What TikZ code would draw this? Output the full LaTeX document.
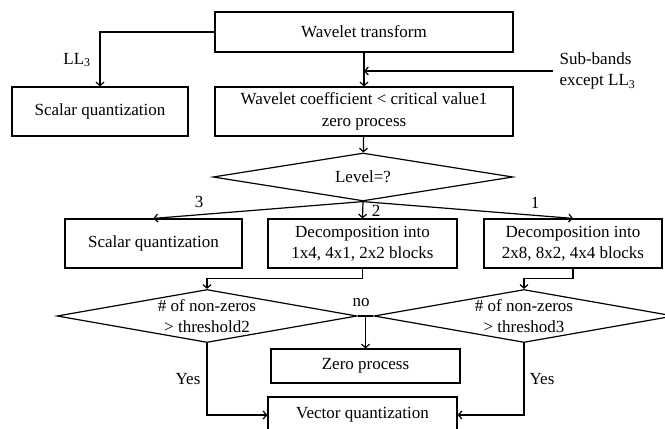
\documentclass[tikz,border=0pt]{standalone}
\usepackage{fontspec}
\setmainfont{Liberation Serif}
\usetikzlibrary{shapes.geometric, arrows.meta}

\begin{document}
\begin{tikzpicture}[
    x=1pt, y=-1pt,
    font=\fontsize{17}{21.5}\selectfont,
    line width=1.2pt,
    >={Straight Barb[length=3.5pt, width=8pt]},
    box/.style={draw, rectangle, align=center, inner sep=0pt, minimum height=49pt},
    decision/.style={draw, diamond, inner sep=0pt, minimum width=300pt},
    tag/.style={inner sep=1pt, align=center}
]
\useasboundingbox (0,0) rectangle (665,429);

\node[box, minimum width=298pt, minimum height=40pt] (wt) at (364,32) {Wavelet transform};
\node[box, minimum width=176pt] (sq1) at (100,111.5) {Scalar quantization};
\node[box, minimum width=298pt] (coef) at (364,111.5) {Wavelet coefficient < critical value1\\zero process};
\node[tag, anchor=west, align=left, inner xsep=6pt] (sub) at (553,71) {Sub-bands\\except LL\textsubscript{3}};

\node[decision, minimum height=48pt, label={center:Level=?}] (lvl) at (363,177) {};

\node[box, minimum width=177pt] (sq2) at (153.5,243.5) {Scalar quantization};
\node[box, minimum width=189pt] (dec1) at (362.5,243.5) {Decomposition into\\1x4, 4x1, 2x2 blocks};
\node[box, minimum width=178pt] (dec2) at (573,243.5) {Decomposition into\\2x8, 8x2, 4x4 blocks};

\node[decision, minimum height=53pt, label={[align=center]center:\# of non-zeros\\> threshold2}] (thr2) at (207,316) {};
\node[decision, minimum height=53pt, label={[align=center]center:\# of non-zeros\\> threshod3}] (thr3) at (524,316) {};

\node[box, minimum width=189pt, minimum height=34pt] (zero) at (365.5,366) {Zero process};
\node[box, minimum width=189pt, minimum height=36pt] (vq) at (362.5,415) {Vector quantization};

% labels
\node[tag] (ll) at (77,60) {LL\textsubscript{3}};
\node[tag] (l3) at (199,202) {3};
\node[tag] (l2) at (376,211) {2};
\node[tag] (l1) at (535,203) {1};
\node[tag] (no) at (361,303) {no};
\node[tag] (yes2) at (188,379) {Yes};
\node[tag] (yes3) at (542,379) {Yes};

\draw[->] (wt.west) -| (sq1.north);
\draw[->] (wt) -- (coef);
\draw[->] (sub.west) -- (sub.west -| wt.south);
\draw[->] (coef) -- (lvl);
\draw[->] (lvl.south) -- (sq2.north);
\draw[->] (lvl.south) -- (dec1.north);
\draw[->] (lvl.south) -- (dec2.north);
\draw[->] (dec1.south) -- ++(0,10) -| (thr2.north);
\draw[->] (dec2.south) -- ++(0,10) -| (thr3.north);
\draw (thr2.east) -- coordinate (mid) (thr3.west);
\draw[->] (mid) -- (zero.north -| mid);
\draw[->] (thr2.south) |- (vq.west);
\draw[->] (thr3.south) |- (vq.east);

\end{tikzpicture}
\end{document}
